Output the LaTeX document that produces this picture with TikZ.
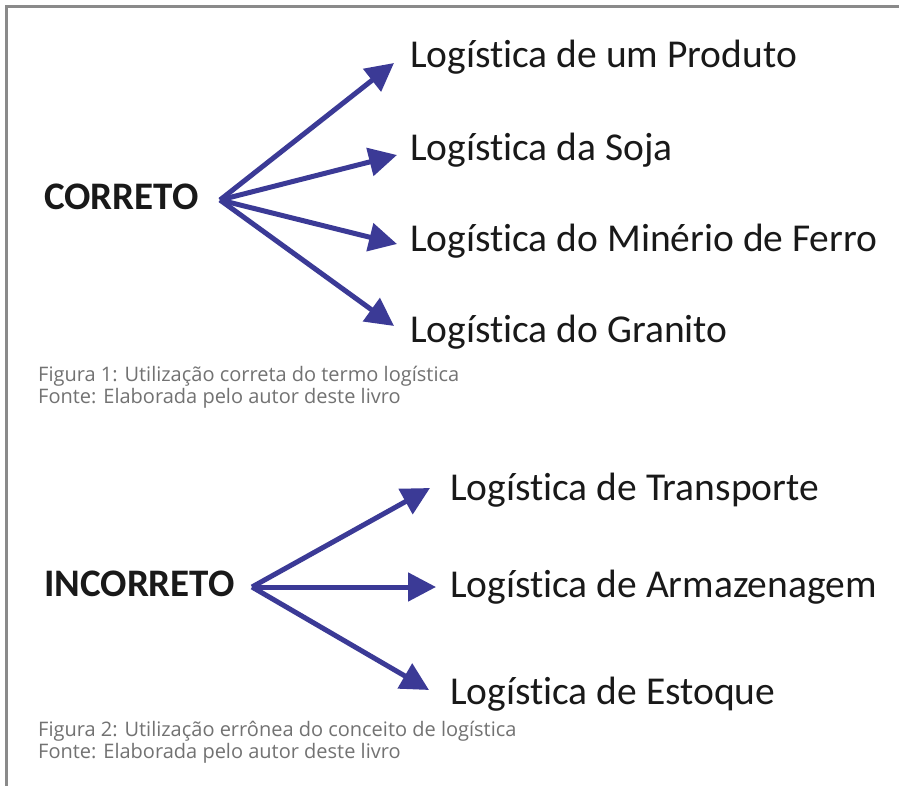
\documentclass[tikz,border=0pt]{standalone}
\usepackage{fontspec}
\setmainfont{Carlito}[Ligatures=NoCommon]
\newfontfamily\capfont{Open Sans}[Ligatures=NoCommon]
\usetikzlibrary{arrows.meta}
\definecolor{arrblue}{HTML}{3B3A96}
\definecolor{framegray}{HTML}{8A8A8A}
\definecolor{capgray}{HTML}{727272}
\tikzset{
  fan/.style={draw=arrblue, line width=5pt, -{Triangle[length=28pt,width=28pt]}},
  lbl/.style={anchor=base west, inner sep=0pt, font=\fontsize{39.5}{42}\selectfont, text=black!90},
  headlbl/.style={anchor=base west, inner sep=0pt, font=\bfseries\fontsize{39}{42}\selectfont, text=black!90},
  captxt/.style={anchor=base west, inner sep=0pt, font=\capfont\fontsize{20}{22}\selectfont, text=capgray},
}
\begin{document}
\begin{tikzpicture}[x=1pt,y=-1pt]
\useasboundingbox[fill=white] (0,0) rectangle (899,786);
\draw[framegray, line width=3pt] (6.5,786) -- (6.5,6.5) -- (899,6.5);
% group 1
\node[headlbl] (correto) at (44,210) {CORRETO};
\coordinate (o1) at (220,200);
\coordinate (t1) at (394,63);
\coordinate (t2) at (397,155);
\coordinate (t3) at (397,244);
\coordinate (t4) at (394,326);
\draw[fan] (o1) -- (t1);
\draw[fan] (o1) -- (t2);
\draw[fan] (o1) -- (t3);
\draw[fan] (o1) -- (t4);
\node[lbl] (l1) at (410,68) {Logística de um Produto};
\node[lbl] (l2) at (410,161) {Logística da Soja};
\node[lbl] (l3) at (410,252) {Logística do Minério de Ferro};
\node[lbl] (l4) at (410,342) {Logística do Granito};
\node[captxt] (c1) at (38,381) {Figura 1: Utilização correta do termo logística};
\node[captxt] (c2) at (38,403) {Fonte: Elaborada pelo autor deste livro};
% group 2
\node[headlbl] (incorreto) at (44,596) {INCORRETO};
\coordinate (o2) at (252,587);
\coordinate (s1) at (430,488);
\coordinate (s2) at (436,587);
\coordinate (s3) at (429,690);
\draw[fan] (o2) -- (s1);
\draw[fan] (o2) -- (s2);
\draw[fan] (o2) -- (s3);
\node[lbl] (m1) at (450,500) {Logística de Transporte};
\node[lbl] (m2) at (450,597) {Logística de Armazenagem};
\node[lbl] (m3) at (450,704) {Logística de Estoque};
\node[captxt] (d1) at (38,736) {Figura 2: Utilização errônea do conceito de logística};
\node[captxt] (d2) at (38,758) {Fonte: Elaborada pelo autor deste livro};
\end{tikzpicture}
\end{document}
